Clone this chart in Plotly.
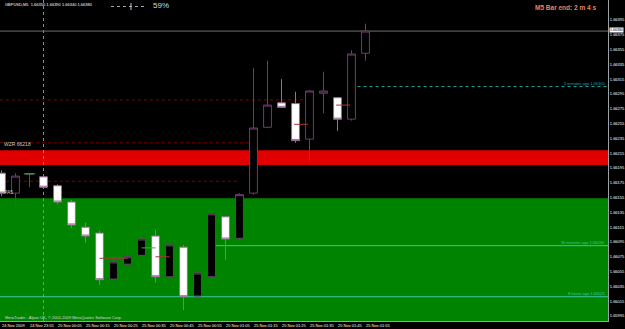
import plotly.graph_objects as go

# ---------------- data ----------------
times = ["24 Nov 23:45", "24 Nov 23:50", "24 Nov 23:55", "25 Nov 00:00", "25 Nov 00:05",
         "25 Nov 00:10", "25 Nov 00:15", "25 Nov 00:20", "25 Nov 00:25", "25 Nov 00:30",
         "25 Nov 00:35", "25 Nov 00:40", "25 Nov 00:45", "25 Nov 00:50", "25 Nov 00:55",
         "25 Nov 01:00", "25 Nov 01:05", "25 Nov 01:10", "25 Nov 01:15", "25 Nov 01:20",
         "25 Nov 01:25", "25 Nov 01:30", "25 Nov 01:35", "25 Nov 01:40", "25 Nov 01:45",
         "25 Nov 01:50", "25 Nov 01:55"]
opens = [1.66188, 1.66161, 1.66187, 1.66183, 1.66171, 1.66149, 1.66115, 1.66107, 1.66045,
         1.66065, 1.66077, 1.66103, 1.66048, 1.66088, 1.66022, 1.66048, 1.66129, 1.66100,
         1.66161, 1.66250, 1.66283, 1.66282, 1.66234, 1.66296, 1.66290, 1.66261, 1.66350]
highs = [1.66192, 1.66188, 1.66188, 1.66185, 1.66173, 1.66152, 1.66121, 1.66110, 1.66076,
         1.66095, 1.66134, 1.66111, 1.66111, 1.66091, 1.66055, 1.66136, 1.66130, 1.66161,
         1.66330, 1.66340, 1.66315, 1.66298, 1.66300, 1.66325, 1.66291, 1.66354, 1.66390]
lows = [1.66157, 1.66141, 1.66169, 1.66167, 1.66146, 1.66114, 1.66094, 1.66037, 1.66040,
        1.66063, 1.66076, 1.66040, 1.66045, 1.66003, 1.66021, 1.66046, 1.66071, 1.66096,
        1.66159, 1.66249, 1.66276, 1.66229, 1.66203, 1.66269, 1.66245, 1.66259, 1.66340]
closes = [1.66161, 1.66184, 1.66187, 1.66169, 1.66149, 1.66118, 1.66103, 1.66044, 1.66068,
          1.66075, 1.66099, 1.66048, 1.66091, 1.66021, 1.66053, 1.66133, 1.66099, 1.66159,
          1.66249, 1.66280, 1.66277, 1.66232, 1.66299, 1.66299, 1.66261, 1.66349, 1.66380]

tick_bars = [0, 2, 4, 6, 8, 10, 12, 14, 16, 18, 20, 22, 24, 26]
tick_labels = ["24 Nov 2009", "24 Nov 23:55", "25 Nov 00:05", "25 Nov 00:15", "25 Nov 00:25",
               "25 Nov 00:35", "25 Nov 00:45", "25 Nov 00:55", "25 Nov 01:05", "25 Nov 01:15",
               "25 Nov 01:25", "25 Nov 01:35", "25 Nov 01:45", "25 Nov 01:55"]
price_ticks = [1.65995 + 0.0002 * k for k in range(21)]

symbol = "GBPUSD,M5"
bid = 1.66380
red_zone = [1.66199, 1.66219]
red_zone_label = "WZR 66218"
green_zone_top = 1.66154
green_zone_label = "PA5"
day_separator_bar = 3
ago_labels = ["5 minutes ago", "30 minutes ago", "8 hours ago"]
ago_prices = [1.66305, 1.66090, 1.66021]
ago_start_bars = [25, 15, None]
level_prices = [1.66287, 1.66229, 1.66177]
level_end_bars = [22, 17.8, 17]
red_marks = [(7, 9, 1.66073), (11, 12, 1.66075), (20.9, 21.9, 1.66254), (23.9, 24.9, 1.66280)]
green_marks = [(10, 11, 1.66087), (1.6, 2.4, 1.66187)]
timer_text = "M5 Bar end: 2 m 4 s"
percent_text = "59%"
footer_text = "MetaTrader - Alpari UK, \u00a9 2001-2009 MetaQuotes Software Corp."

# ---------------- figure ----------------
W, H = 625, 329
ML, MR, MT, MB = 0, 17, 0, 8
PW, PH = W - ML - MR, H - MT - MB
x_range = [-0.107, 43.32]
y_range = [1.659882, 1.664220]

bars = list(range(len(times)))
fig = go.Figure()
fig.add_trace(go.Candlestick(
    x=bars, open=opens, high=highs, low=lows, close=closes,
    text=times, hoverinfo="text",
    increasing=dict(line=dict(color="#6e3c6e", width=1), fillcolor="#000000"),
    decreasing=dict(line=dict(color="#9a6a9a", width=1), fillcolor="#ffffff"),
    whiskerwidth=0, showlegend=False,
))

shapes = []
shapes.append(dict(type="rect", xref="paper", yref="y", x0=0, x1=1, y0=y_range[0] - 0.001,
                   y1=green_zone_top, fillcolor="#008400", line=dict(width=0), layer="below"))
shapes.append(dict(type="rect", xref="paper", yref="y", x0=0, x1=1, y0=red_zone[0],
                   y1=red_zone[1], fillcolor="#e00000", line=dict(width=0), layer="below"))
shapes.append(dict(type="line", xref="x", yref="paper", x0=day_separator_bar, x1=day_separator_bar,
                   y0=0, y1=1, line=dict(color="#8c8c8c", width=1, dash="dot"), layer="below"))
shapes.append(dict(type="line", xref="paper", yref="y", x0=0, x1=1, y0=bid, y1=bid,
                   line=dict(color="#6e6e6e", width=1), layer="below"))
for p, xe in zip(level_prices, level_end_bars):
    shapes.append(dict(type="line", xref="x", yref="y", x0=x_range[0], x1=xe, y0=p, y1=p,
                       line=dict(color="#7a0000", width=1, dash="dot"), layer="below"))
for a, b, p in red_marks:
    shapes.append(dict(type="line", xref="x", yref="y", x0=a, x1=b, y0=p, y1=p,
                       line=dict(color="#a03838", width=1), layer="above"))
for a, b, p in green_marks:
    shapes.append(dict(type="line", xref="x", yref="y", x0=a, x1=b, y0=p, y1=p,
                       line=dict(color="#30b040", width=1), layer="above"))
annotations = []
for lab, p, xs in zip(ago_labels, ago_prices, ago_start_bars):
    dotted = xs is not None and xs > 20
    col = "#18a8a8" if dotted else "#38c8a0"
    shapes.append(dict(type="line", xref="x", yref="y",
                       x0=(x_range[0] if xs is None else xs), x1=x_range[1], y0=p, y1=p,
                       line=dict(color=col, width=1, dash=("dot" if dotted else "solid")),
                       layer="below"))
    annotations.append(dict(xref="paper", yref="y", x=0.998, y=p, xanchor="right", yanchor="bottom",
                            text=f"{lab} {p:.5f}", showarrow=False, yshift=-1,
                            font=dict(size=4, color=col, family="Liberation Sans")))

shapes.append(dict(type="line", xref="paper", yref="paper", x0=111 / PW, x1=147 / PW,
                   y0=1 - 6.5 / PH, y1=1 - 6.5 / PH, line=dict(color="#9aa8b8", width=1, dash="dot")))
shapes.append(dict(type="line", xref="paper", yref="paper", x0=131 / PW, x1=131 / PW,
                   y0=1 - 3 / PH, y1=1 - 10 / PH, line=dict(color="#c0c8d0", width=1)))

annotations += [
    dict(xref="paper", yref="paper", x=3 / PW, y=1 - 4 / PH, xanchor="left", yanchor="middle",
         text=f"{symbol}  {opens[-1]:.5f} {highs[-1]:.5f} {lows[-1]:.5f} {closes[-1]:.5f}",
         showarrow=False, font=dict(size=4, color="#ffffff", family="Liberation Sans")),
    dict(xref="paper", yref="paper", x=160.5 / PW, y=1 - 5.5 / PH, xanchor="center", yanchor="middle",
         text=percent_text, showarrow=False,
         font=dict(size=8, color="#d8d8d8", family="Liberation Sans")),
    dict(xref="paper", yref="paper", x=598 / PW, y=1 - 7 / PH, xanchor="right", yanchor="middle",
         text=f"<b>{timer_text}</b>", showarrow=False,
         font=dict(size=6.5, color="#f0805a", family="Liberation Sans")),
    dict(xref="paper", yref="y", x=1.0, y=bid, xanchor="left", yanchor="middle",
         text=f"{bid:.5f}", showarrow=False, bgcolor="#ffffff", borderpad=0, xshift=1, yshift=1,
         font=dict(size=3.6, color="#000000", family="Liberation Sans")),
    dict(xref="paper", yref="y", x=2 / PW, y=red_zone[1], xanchor="left", yanchor="bottom",
         text=red_zone_label, showarrow=False, yshift=1,
         font=dict(size=5, color="#c8c8c8", family="Liberation Sans")),
    dict(xref="paper", yref="y", x=2 / PW, y=green_zone_top, xanchor="left", yanchor="bottom",
         text=green_zone_label, showarrow=False, yshift=1,
         font=dict(size=5, color="#c8c8c8", family="Liberation Sans")),
    dict(xref="paper", yref="paper", x=3 / PW, y=4 / PH, xanchor="left", yanchor="middle",
         text=footer_text, showarrow=False,
         font=dict(size=4, color="#d8d8d8", family="Liberation Sans")),
]

fig.update_layout(
    width=W, height=H, margin=dict(l=ML, r=MR, t=MT, b=MB, autoexpand=False),
    paper_bgcolor="#000000", plot_bgcolor="#000000",
    boxgap=0.2, hovermode=False, showlegend=False,
    shapes=shapes, annotations=annotations,
    font=dict(family="Liberation Sans", color="#ffffff"),
)
fig.update_xaxes(
    range=x_range, tickmode="array", tickvals=tick_bars, ticktext=tick_labels,
    ticklabelposition="outside right", tickangle=0, automargin=False,
    tickfont=dict(size=4, color="#ffffff"),
    showgrid=False, zeroline=False, rangeslider=dict(visible=False),
    showline=True, mirror=True, linecolor="#a0a0a0", linewidth=1, ticks="",
)
fig.update_yaxes(
    range=y_range, side="right", tickmode="array", tickvals=price_ticks, automargin=False,
    ticktext=[f"{v:.5f}" for v in price_ticks], tickfont=dict(size=4, color="#ffffff"),
    showgrid=False, zeroline=False, showline=True, mirror=True, linecolor="#a0a0a0",
    linewidth=1, ticks="",
)

fig.write_html("out.html")
